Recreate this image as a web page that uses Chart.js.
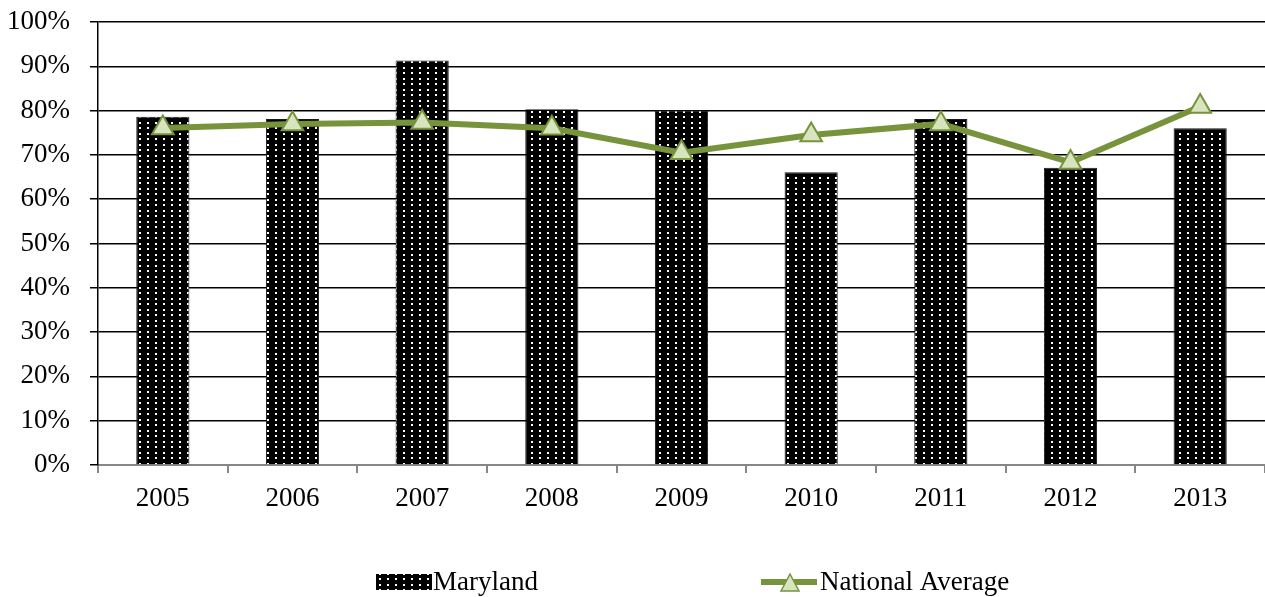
<!DOCTYPE html>
<html>
<head>
<meta charset="utf-8">
<script src="https://cdn.jsdelivr.net/npm/chart.js@4/dist/chart.umd.min.js"></script>
<style>
   html, body { margin: 0; padding: 0; background: #fff; overflow: hidden; }
   #rateChart { display: block; }
</style>
</head>
<body>
<canvas id="rateChart" width="1265" height="597"></canvas>
<script>
const years = ['2005', '2006', '2007', '2008', '2009', '2010', '2011', '2012', '2013'];
const marylandRates = [78.6, 78.1, 91.3, 80.3, 80.0, 66.1, 78.1, 67.1, 76.0];
const nationalRates = [76.1, 77.0, 77.3, 76.0, 70.5, 74.5, 77.0, 68.3, 80.9];
const seriesNames = ['Maryland', 'National Average'];

const FONT = 'Liberation Serif, Times New Roman, serif';
const GREEN = '#77933C';
const GREEN_FILL = '#D7E4BD';

// black fill with a grid of small white dots
function makeDotPattern(ctx) {
   const tile = document.createElement('canvas');
   tile.width = 8;
   tile.height = 11;
   const t = tile.getContext('2d');
   t.fillStyle = '#000';
   t.fillRect(0, 0, 8, 11);
   t.fillStyle = '#fff';
   t.fillRect(3, 1, 2, 2);
   t.fillRect(3, 6, 2, 2);
   return ctx.createPattern(tile, 'repeat');
}

// legend row under the axis
const legendRow = {
   id: 'legendRow',
   afterDraw(chart) {
      const ctx = chart.ctx;
      const y = 582;
      ctx.save();
      ctx.font = '27px ' + FONT;
      ctx.textBaseline = 'middle';

      ctx.fillStyle = chart.data.datasets[0].backgroundColor;
      ctx.fillRect(376, y - 8, 56, 16);
      ctx.fillStyle = '#000';
      ctx.fillText(seriesNames[0], 433, y + 1);

      ctx.strokeStyle = GREEN;
      ctx.lineWidth = 6;
      ctx.beginPath();
      ctx.moveTo(761, y);
      ctx.lineTo(817, y);
      ctx.stroke();
      ctx.beginPath();
      ctx.moveTo(790, y - 8);
      ctx.lineTo(799, y + 9);
      ctx.lineTo(781, y + 9);
      ctx.closePath();
      ctx.fillStyle = GREEN_FILL;
      ctx.fill();
      ctx.lineWidth = 1.5;
      ctx.stroke();

      ctx.fillStyle = '#000';
      ctx.fillText(seriesNames[1], 820, y + 1);
      ctx.restore();
   }
};

function initChart() {
   const canvas = document.getElementById('rateChart');
   const ctx = canvas.getContext('2d');
   const dots = makeDotPattern(ctx);

   new Chart(ctx, {
      type: 'bar',
      data: {
         labels: years,
         datasets: [
            {
               label: seriesNames[0],
               data: marylandRates,
               backgroundColor: dots,
               borderColor: '#1a1a1a',
               borderWidth: 1,
               categoryPercentage: 1,
               barPercentage: 0.41,
               order: 1,
            },
            {
               type: 'line',
               label: seriesNames[1],
               data: nationalRates,
               borderColor: GREEN,
               borderWidth: 6,
               tension: 0,
               pointStyle: 'triangle',
               pointRadius: 12.5,
               pointBackgroundColor: GREEN_FILL,
               pointBorderColor: GREEN,
               pointBorderWidth: 2,
               order: 0,
            },
         ],
      },
      options: {
         responsive: false,
         animation: false,
         layout: {
            autoPadding: false,
            padding: { top: 22, right: 0, bottom: 0, left: 0 },
         },
         plugins: {
            legend: { display: false },
            tooltip: { enabled: false },
         },
         scales: {
            x: {
               afterFit(scale) {
                  scale.height = 132;
                  scale.paddingLeft = 0;
                  scale.paddingRight = 0;
               },
               grid: {
                  offset: true,
                  drawOnChartArea: false,
                  tickLength: 8,
                  color: '#868686',
                  lineWidth: 2,
               },
               border: { color: '#868686', width: 2 },
               ticks: {
                  color: '#000',
                  padding: 10,
                  font: { family: FONT, size: 27 },
               },
            },
            y: {
               min: 0,
               max: 100,
               afterFit(scale) {
                  scale.width = 98;
                  scale.paddingTop = 0;
                  scale.paddingBottom = 0;
               },
               grid: {
                  color: '#000',
                  lineWidth: 1.5,
                  tickLength: 8,
               },
               border: { color: '#000', width: 1.5 },
               ticks: {
                  stepSize: 10,
                  color: '#000',
                  padding: 20,
                  font: { family: FONT, size: 27 },
                  callback: value => value + '%',
               },
            },
         },
      },
      plugins: [legendRow],
   });
}

document.addEventListener('DOMContentLoaded', initChart);
</script>
</body>
</html>
